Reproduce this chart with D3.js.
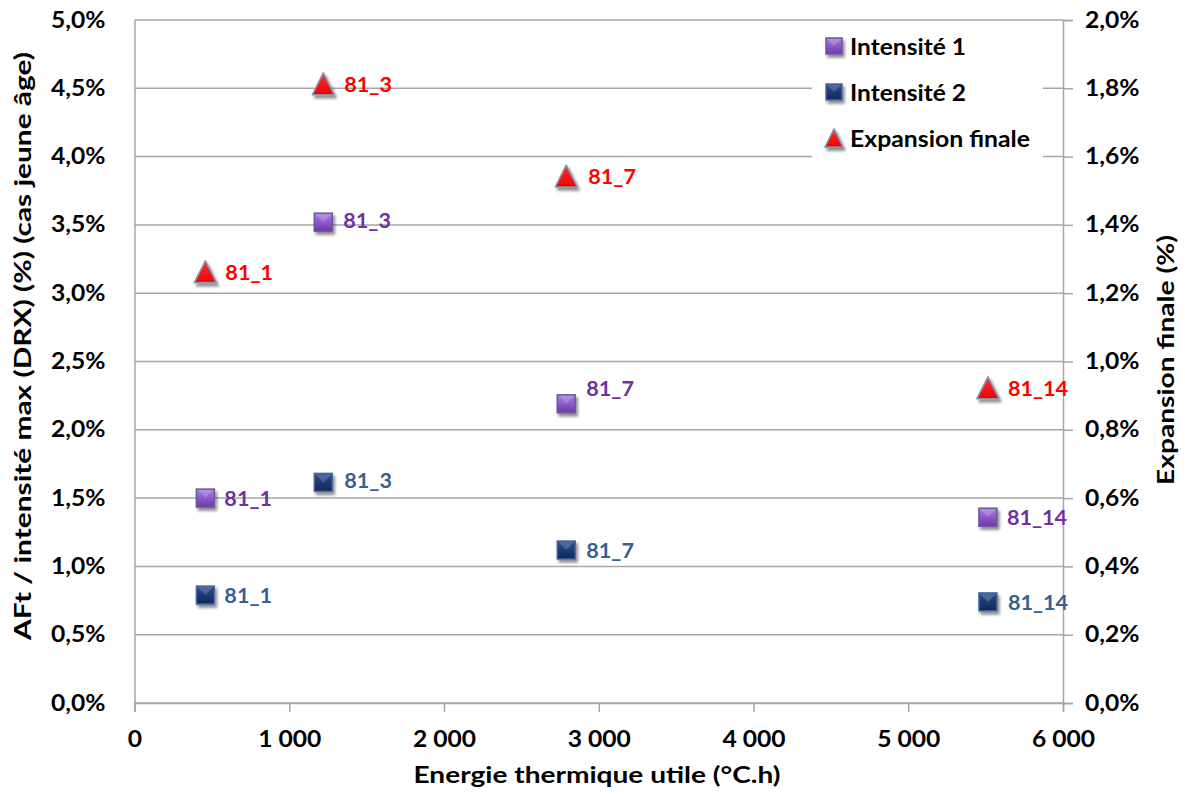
<!DOCTYPE html>
<html><head><meta charset="utf-8">
<script src="https://cdn.jsdelivr.net/npm/d3@7"></script>
<style>
body{margin:0;background:#fff;}
text{font-family:Lato,"Open Sans",sans-serif;font-weight:bold;}
</style></head>
<body><svg id="c" width="1185" height="794"></svg>
<script>
const labels = ["81_1","81_3","81_7","81_14"];
const energy = [458, 1220, 2790, 5515];
const intensite1 = [1.50, 3.52, 2.19, 1.36];
const intensite2 = [0.79, 1.615, 1.12, 0.74];
const expansion = [1.26, 1.81, 1.54, 0.92];
const xTicks = [0,1000,2000,3000,4000,5000,6000];
const yLeftTicks = [0,0.5,1,1.5,2,2.5,3,3.5,4,4.5,5];
const yRightTicks = [0,0.2,0.4,0.6,0.8,1.0,1.2,1.4,1.6,1.8,2.0];

const svg = d3.select("#c");
const L=134.5, R=1063, T=20, B=703;
const x = d3.scaleLinear().domain([0,6000]).range([L,R]);
const yL = d3.scaleLinear().domain([0,5]).range([B,T]);
const yR = d3.scaleLinear().domain([0,2]).range([B,T]);
const grid="#a6a6a6";
const fmtPct = d => d.toFixed(1).replace(".",",")+"%";
const fmtX = d => d===0?"0":d3.format(",")(d).replace(/,/g," ");

function stretch(sel,k){sel.each(function(){const w=this.getComputedTextLength();d3.select(this).attr("textLength",w*k).attr("lengthAdjust","spacingAndGlyphs");});}

const defs = svg.append("defs");
const f = defs.append("filter").attr("id","sh").attr("x","-50%").attr("y","-50%").attr("width","200%").attr("height","200%");
f.append("feGaussianBlur").attr("in","SourceAlpha").attr("stdDeviation",1.6).attr("result","b");
f.append("feOffset").attr("in","b").attr("dx",1.5).attr("dy",2.5).attr("result","o");
f.append("feComponentTransfer").attr("in","o").attr("result","o2").append("feFuncA").attr("type","linear").attr("slope",0.45);
const m = f.append("feMerge"); m.append("feMergeNode").attr("in","o2"); m.append("feMergeNode").attr("in","SourceGraphic");
function grad(id,c1,c2){const g=defs.append("linearGradient").attr("id",id).attr("x1",0).attr("y1",0).attr("x2",0).attr("y2",1);
 g.append("stop").attr("offset","0").attr("stop-color",c1);g.append("stop").attr("offset","1").attr("stop-color",c2);}
grad("gP","#a77ee0","#7035b0");
grad("gB","#2c4f8e","#0f2658");
grad("gR","#ff3030","#f00000");

// gridlines
svg.append("g").selectAll("line").data(yLeftTicks).join("line")
 .attr("x1",L).attr("x2",R).attr("y1",d=>yL(d)).attr("y2",d=>yL(d))
 .attr("stroke",grid).attr("stroke-width",1.5);

// axes
const ax = svg.append("g").attr("transform",`translate(0,${B})`).call(d3.axisBottom(x).tickValues(xTicks).tickFormat(fmtX).tickSize(9).tickPadding(10));
const ayl = svg.append("g").attr("transform",`translate(${L},0)`).call(d3.axisLeft(yL).tickValues(yLeftTicks).tickFormat(fmtPct).tickSize(0).tickPadding(29));
const ayr = svg.append("g").attr("transform",`translate(${R},0)`).call(d3.axisRight(yR).tickValues(yRightTicks).tickFormat(fmtPct).tickSize(10).tickPadding(12));
[ax,ayl,ayr].forEach(a=>{a.select(".domain").attr("stroke",grid).attr("stroke-width",1.5);
 a.selectAll(".tick line").attr("stroke",grid).attr("stroke-width",1.5);
 a.selectAll("text").attr("fill","#000").style("font-size","22px").style("font-family","Lato").style("font-weight","bold");});
ax.selectAll("text").attr("dy",null).attr("y",44);
[ax,ayl,ayr].forEach(a=>stretch(a.selectAll("text"),1.12));

// legend box
svg.append("rect").attr("x",812).attr("y",22).attr("width",231).attr("height",138).attr("fill","#fff");

function square(g,cx,cy,s,gid,stroke){
 g.append("rect").attr("x",cx-s/2).attr("y",cy-s/2).attr("width",s).attr("height",s)
  .attr("fill",`url(#${gid})`).attr("stroke",stroke).attr("stroke-width",1.5).attr("filter","url(#sh)");
 g.append("path").attr("d",`M${cx-s/2+1},${cy-s/2+1}L${cx},${cy}L${cx+s/2-1},${cy-s/2+1}Z`).attr("fill","#fff").attr("opacity",0.18);
}
function tri(g,cx,cy,s){
 const h=s*0.9;
 g.append("path").attr("d",`M${cx},${cy-h/2-2}L${cx+s/2},${cy+h/2}L${cx-s/2},${cy+h/2}Z`)
  .attr("fill","url(#gR)").attr("stroke","#8893a8").attr("stroke-width",1.6).attr("stroke-linejoin","round").attr("filter","url(#sh)");
}

const pts = svg.append("g");
labels.forEach((lb,i)=>{
 const cx=x(energy[i]);
 square(pts,cx,yL(intensite1[i]),18,"gP","#6a5a9a");
 square(pts,cx,yL(intensite2[i]),18,"gB","#4a6a9a");
 tri(pts,cx,yR(expansion[i]),22);
});
// data labels
const lblOff = {i1:[[19,8],[20,6],[20,-8],[19,8]], i2:[[19,8],[21,6],[20,8],[20,8]], ex:[[20,7],[21,7],[22,7],[20,7]]};
const dl = svg.append("g").style("font-size","20px");
labels.forEach((lb,i)=>{
 const cx=x(energy[i]);
 dl.append("text").attr("x",cx+lblOff.i1[i][0]).attr("y",yL(intensite1[i])+lblOff.i1[i][1]).text(lb).attr("fill","#7030a0");
 dl.append("text").attr("x",cx+lblOff.i2[i][0]).attr("y",yL(intensite2[i])+lblOff.i2[i][1]).text(lb).attr("fill","#376092");
 dl.append("text").attr("x",cx+lblOff.ex[i][0]).attr("y",yR(expansion[i])+lblOff.ex[i][1]).text(lb).attr("fill","#ff0000");
});
stretch(dl.selectAll("text"),1.08);

// legend
const lg = svg.append("g");
const legendItems = ["Intensité 1","Intensité 2","Expansion finale"];
square(lg,834,46,16,"gP","#6a5a9a");
square(lg,834,92,16,"gB","#4a6a9a");
tri(lg,834,139,18);
const lgW=[116,116,180];
legendItems.forEach((t,i)=>lg.append("text").attr("x",850).attr("y",[47,93,139][i]+8).text(t).attr("fill","#000").style("font-size","22px")
  .attr("textLength",lgW[i]).attr("lengthAdjust","spacingAndGlyphs"));

// axis titles
svg.append("text").attr("x",597).attr("y",783).attr("text-anchor","middle").text("Energie thermique utile (°C.h)").style("font-size","23px")
 .attr("textLength",367).attr("lengthAdjust","spacingAndGlyphs");
svg.append("text").attr("transform","translate(31,346) rotate(-90)").attr("text-anchor","middle").text("AFt / intensité max (DRX) (%) (cas jeune âge)").style("font-size","23px")
 .attr("textLength",588).attr("lengthAdjust","spacingAndGlyphs");
svg.append("text").attr("transform","translate(1174,360) rotate(-90)").attr("text-anchor","middle").text("Expansion finale (%)").style("font-size","23px")
 .attr("textLength",250).attr("lengthAdjust","spacingAndGlyphs");
</script></body></html>
